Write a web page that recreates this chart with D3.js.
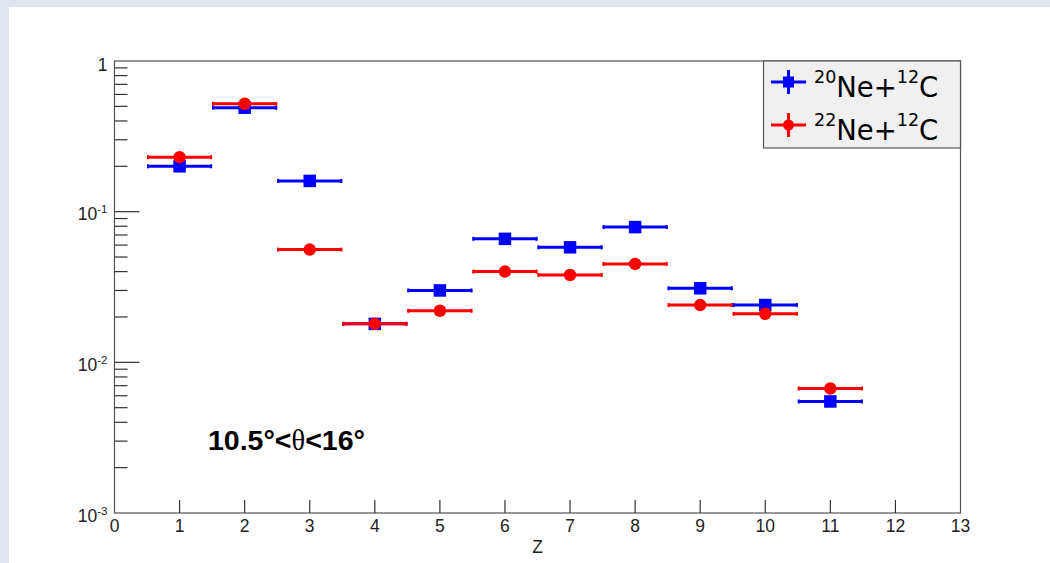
<!DOCTYPE html>
<html>
<head>
<meta charset="utf-8">
<script src="https://cdn.jsdelivr.net/npm/d3@7"></script>
<style>
    body { margin: 0; background: #dfe6f0; }
    svg { display: block; }
</style>
</head>
<body>
<div class="svg-container"></div>
<script>
// data
let zValues = [1, 2, 3, 4, 5, 6, 7, 8, 9, 10, 11];
let ne20Values = [0.20, 0.49, 0.16, 0.018, 0.030, 0.066, 0.058, 0.079, 0.031, 0.024, 0.0055];
let ne22Values = [0.23, 0.52, 0.056, 0.018, 0.022, 0.040, 0.038, 0.045, 0.024, 0.021, 0.0067];
let zError = 0.5;
let xTicks = d3.range(0, 14);
let yDecades = [1, 0.1, 0.01, 0.001];
let yDecadeExp = ["", "-1", "-2", "-3"];

let width = 1050;
let height = 563;

let plot = { left: 114.5, right: 960.5, top: 61, bottom: 513 };

let svg = d3.select(".svg-container")
    .append("svg")
    .attr("width", width)
    .attr("height", height);

// white pad on the light blue canvas
svg.append("rect")
    .attr("x", 9).attr("y", 7)
    .attr("width", width - 9).attr("height", height - 7)
    .attr("fill", "#ffffff");

let x = d3.scaleLinear().domain([0, 13]).range([plot.left, plot.right]);
let y = d3.scaleLog().domain([0.001, 1]).range([plot.bottom, plot.top]);

let axisColor = "#333";
let labelFont = "Liberation Sans, Arial, sans-serif";

// frame
svg.append("rect")
    .attr("x", plot.left).attr("y", plot.top)
    .attr("width", plot.right - plot.left).attr("height", plot.bottom - plot.top)
    .attr("fill", "none")
    .attr("stroke", "#555")
    .attr("stroke-width", 1.2);

// x axis ticks, pointing inwards
let xAxis = svg.append("g").attr("class", "x-axis");
xAxis.selectAll("line")
    .data(xTicks.filter(d => d > 0 && d < 13))
    .enter()
    .append("line")
    .attr("x1", d => x(d)).attr("x2", d => x(d))
    .attr("y1", plot.bottom).attr("y2", plot.bottom - 13)
    .attr("stroke", axisColor)
    .attr("stroke-width", 1.2);

xAxis.selectAll("text")
    .data(xTicks)
    .enter()
    .append("text")
    .attr("x", d => x(d))
    .attr("y", plot.bottom + 18.5)
    .attr("text-anchor", "middle")
    .style("font-family", labelFont)
    .style("font-size", "17.5px")
    .style("fill", "#222")
    .text(d => d);

svg.append("text")
    .attr("x", (plot.left + plot.right) / 2)
    .attr("y", 553)
    .attr("text-anchor", "middle")
    .style("font-family", labelFont)
    .style("font-size", "17.5px")
    .style("fill", "#222")
    .text("Z");

// y axis: decade ticks plus minor ticks 2..9
let yAxis = svg.append("g").attr("class", "y-axis");
let minorTicks = [];
[0.001, 0.01, 0.1].forEach(function(dec) {
    for (let k = 2; k <= 9; k++) minorTicks.push(dec * k);
});

yAxis.selectAll("line.minor")
    .data(minorTicks)
    .enter()
    .append("line")
    .attr("class", "minor")
    .attr("x1", plot.left).attr("x2", plot.left + 13)
    .attr("y1", d => y(d)).attr("y2", d => y(d))
    .attr("stroke", axisColor)
    .attr("stroke-width", 1.2);

yAxis.selectAll("line.major")
    .data(yDecades.filter(d => d > 0.001 && d < 1))
    .enter()
    .append("line")
    .attr("class", "major")
    .attr("x1", plot.left).attr("x2", plot.left + 25)
    .attr("y1", d => y(d)).attr("y2", d => y(d))
    .attr("stroke", axisColor)
    .attr("stroke-width", 1.2);

let yLabel = yAxis.selectAll("text")
    .data(yDecades)
    .enter()
    .append("text")
    .attr("x", plot.left - 7)
    .attr("y", d => y(d) + 8.5)
    .attr("text-anchor", "end")
    .style("font-family", labelFont)
    .style("font-size", "17.5px")
    .style("fill", "#222");

yLabel.each(function(d, i) {
    let t = d3.select(this);
    if (d === 1) {
        t.attr("y", y(d) + 10).text("1");
        return;
    }
    t.append("tspan").text("10");
    t.append("tspan")
        .attr("dy", -7)
        .style("font-size", "11.5px")
        .text(yDecadeExp[i]);
});

// series
let series = [
    { name: "20", values: ne20Values, color: "#0000ff", marker: "square" },
    { name: "22", values: ne22Values, color: "#ff0000", marker: "circle" }
];

function drawMarker(g, kind, cx, cy, color, size)
{
    if (kind === "square") {
        g.append("rect")
            .attr("x", cx - size / 2).attr("y", cy - size / 2)
            .attr("width", size).attr("height", size)
            .attr("fill", color);
    } else {
        g.append("circle")
            .attr("cx", cx).attr("cy", cy)
            .attr("r", size / 2)
            .attr("fill", color);
    }
}

series.forEach(function(s) {
    let g = svg.append("g").attr("class", "series-" + s.name);
    zValues.forEach(function(z, i) {
        let cy = y(s.values[i]);
        let x0 = x(z - zError);
        let x1 = x(z + zError);
        g.append("line")
            .attr("x1", x0).attr("x2", x1)
            .attr("y1", cy).attr("y2", cy)
            .attr("stroke", s.color)
            .attr("stroke-width", 3);
        // small end caps
        [x0 + 1, x1 - 1].forEach(function(xc) {
            g.append("line")
                .attr("x1", xc).attr("x2", xc)
                .attr("y1", cy - 2).attr("y2", cy + 2)
                .attr("stroke", s.color)
                .attr("stroke-width", 2);
        });
        drawMarker(g, s.marker, x(z), cy, s.color, 12.5);
    });
});

// annotation
let note = svg.append("text")
    .attr("x", 208)
    .attr("y", 450)
    .style("font-family", labelFont)
    .style("font-size", "28.5px")
    .style("font-weight", "bold")
    .style("fill", "#000");
note.append("tspan").text("10.5°<");
note.append("tspan").style("font-family", "Liberation Serif, serif").style("font-weight", "normal").text("θ");
note.append("tspan").text("<16°");

// legend
let legend = svg.append("g").attr("class", "legend");
legend.append("rect")
    .attr("x", 763.5).attr("y", plot.top)
    .attr("width", plot.right - 763.5).attr("height", 87)
    .attr("fill", "#f0f0f0")
    .attr("stroke", "#555")
    .attr("stroke-width", 1.2);

let legendRows = [82, 125];
series.forEach(function(s, i) {
    let cy = legendRows[i];
    legend.append("line")
        .attr("x1", 771).attr("x2", 806)
        .attr("y1", cy).attr("y2", cy)
        .attr("stroke", s.color).attr("stroke-width", 3);
    legend.append("line")
        .attr("x1", 788.5).attr("x2", 788.5)
        .attr("y1", cy - 12).attr("y2", cy + 12)
        .attr("stroke", s.color).attr("stroke-width", 3);
    drawMarker(legend, s.marker, 788.5, cy, s.color, 11);

    let t = legend.append("text")
        .attr("x", 814)
        .attr("y", cy + 15)
        .style("font-family", "DejaVu Sans, sans-serif")
        .style("font-size", "27.5px")
        .style("fill", "#000");
    t.append("tspan").attr("dy", -14).style("font-size", "17.5px").text(s.name);
    t.append("tspan").attr("dy", 14).text("Ne+");
    t.append("tspan").attr("dy", -14).style("font-size", "17.5px").text("12");
    t.append("tspan").attr("dy", 14).text("C");
});
</script>
</body>
</html>
